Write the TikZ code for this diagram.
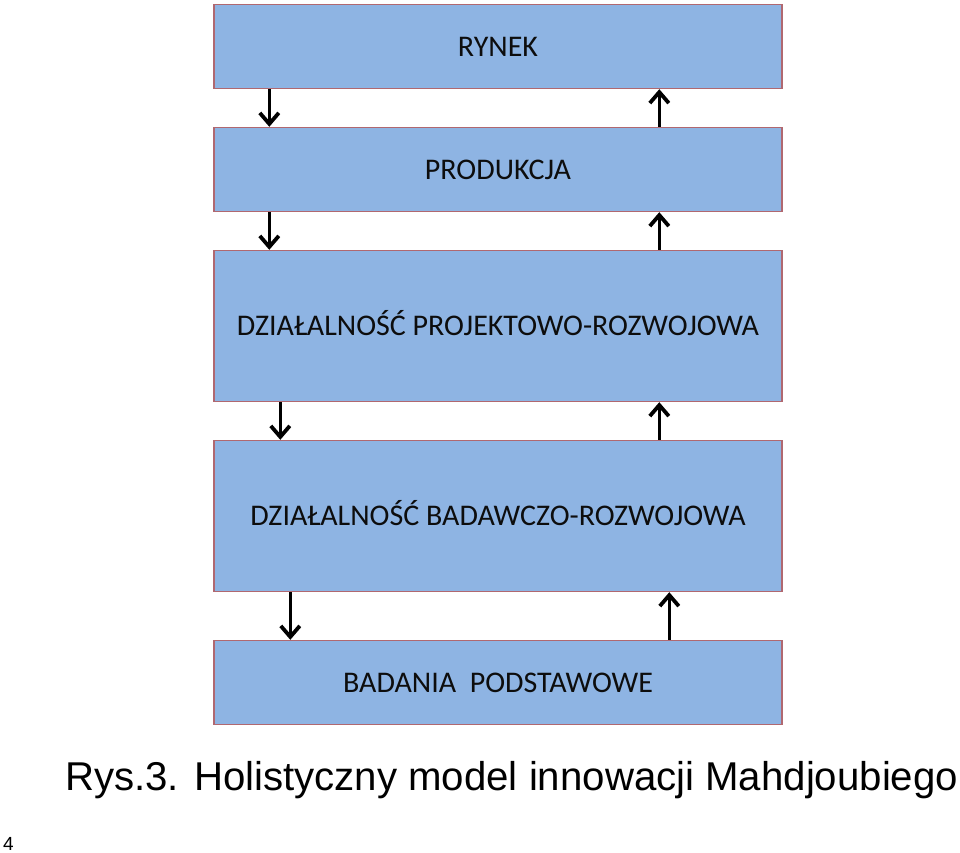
\documentclass[tikz,border=0pt]{standalone}
\usepackage{fontspec}
\setmainfont{Carlito}
\newfontfamily\capfont{Liberation Sans}
\usepackage{tikz}
\usetikzlibrary{arrows.meta,calc}
\definecolor{boxfill}{RGB}{142,180,227}
\definecolor{boxline}{RGB}{176,104,112}
\definecolor{boxtext}{RGB}{13,13,13}
\tikzset{
  blk/.style={draw=boxline,line width=1.4pt,fill=boxfill,minimum width=568,inner sep=0pt,
    text=boxtext,font=\fontsize{30}{33}\selectfont,text height=19.3pt,text depth=0pt},
  arr/.style={line width=3.4pt,-{Straight Barb[length=11pt,width=19pt,line width=3.8pt]}}
}
\begin{document}
\begin{tikzpicture}[x=1pt,y=1pt]
    \useasboundingbox (0,0) rectangle (960,-853);
    % levels, top to bottom
    \node[blk,minimum height=84] (rynek) at (498,-46.5) {RYNEK};
    \node[blk,minimum height=84] (prod) at (498,-169.5) {PRODUKCJA};
    \node[blk,minimum height=151] (projekt) at (498,-326) {DZIAŁALNOŚĆ PROJEKTOWO-ROZWOJOWA};
    \node[blk,minimum height=151] (badawcz) at (498,-516) {DZIAŁALNOŚĆ BADAWCZO-ROZWOJOWA};
    \node[blk,minimum height=84] (podst) at (498,-682.5) {BADANIA\ \ PODSTAWOWE};
    % flows down (left) and up (right)
    \foreach \a/\b/\l/\r in {rynek/prod/56/446,prod/projekt/56/446,projekt/badawcz/67/446,badawcz/podst/77/456} {
      \draw[arr] ([xshift=\l]\a.south west) -- ([xshift=\l]\b.north west);
      \draw[arr] ([xshift=\r]\b.north west) -- ([xshift=\r]\a.south west);
    }
    \node[anchor=base west,inner sep=0pt,font=\capfont\fontsize{40.2}{44}\selectfont] (caption) at (65,-790) {Rys.3. Holistyczny model innowacji Mahdjoubiego};
    \node[anchor=base west,inner sep=0pt,font=\capfont\fontsize{19}{21}\selectfont] (pagenum) at (3,-850) {4};
\end{tikzpicture}
\end{document}
